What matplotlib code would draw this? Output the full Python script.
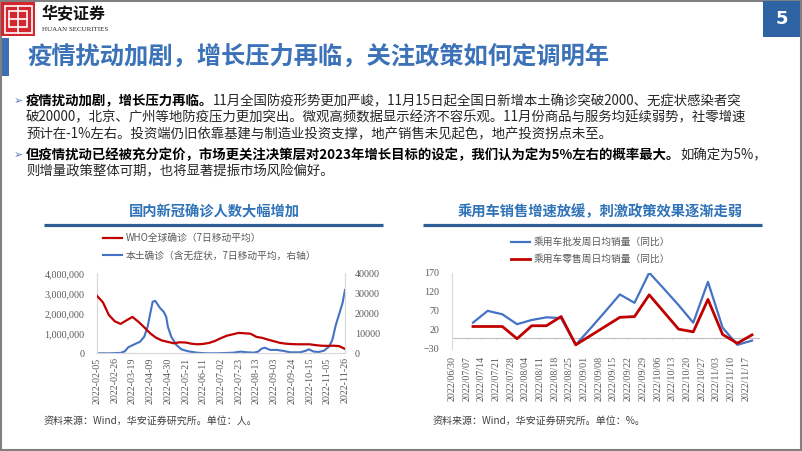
import matplotlib
matplotlib.use('Agg')
import matplotlib.pyplot as plt
import matplotlib.dates as mdates
from matplotlib.patches import Rectangle
from matplotlib.lines import Line2D
import pandas as pd

CJK = ['Noto Sans CJK SC', 'DejaVu Sans']
SERIF = ['Liberation Serif', 'DejaVu Serif']
plt.rcParams['font.family'] = CJK

# ---------------- data ----------------
who_dates = ['2022-02-05', '2022-02-12', '2022-02-19', '2022-02-26', '2022-03-05', '2022-03-12',
             '2022-03-19', '2022-03-26', '2022-04-02', '2022-04-09', '2022-04-16', '2022-04-23',
             '2022-04-30', '2022-05-07', '2022-05-14', '2022-05-21', '2022-05-28', '2022-06-04',
             '2022-06-11', '2022-06-18', '2022-06-25', '2022-07-02', '2022-07-09', '2022-07-16',
             '2022-07-23', '2022-07-30', '2022-08-06', '2022-08-13', '2022-08-20', '2022-08-27',
             '2022-09-03', '2022-09-10', '2022-09-17', '2022-09-24', '2022-10-01', '2022-10-08',
             '2022-10-15', '2022-10-22', '2022-10-29', '2022-11-05', '2022-11-12', '2022-11-19',
             '2022-11-26']
who_cases = [2870000, 2550000, 1920000, 1600000, 1470000, 1650000, 1820000, 1580000, 1300000,
             1000000, 780000, 640000, 570000, 500000, 550000, 540000, 480000, 450000, 470000,
             520000, 620000, 760000, 880000, 950000, 1020000, 1000000, 980000, 820000, 770000,
             680000, 600000, 520000, 480000, 460000, 450000, 450000, 450000, 410000, 380000,
             370000, 380000, 360000, 220000]

local_dates = ['2022-02-05', '2022-02-20', '2022-03-05', '2022-03-10', '2022-03-14', '2022-03-20',
               '2022-03-28', '2022-04-02', '2022-04-06', '2022-04-10', '2022-04-12', '2022-04-15',
               '2022-04-17', '2022-04-21', '2022-04-25', '2022-04-28', '2022-04-30', '2022-05-04',
               '2022-05-10', '2022-05-16', '2022-05-24', '2022-06-03', '2022-06-15', '2022-06-27',
               '2022-07-09', '2022-07-17', '2022-07-25', '2022-08-02', '2022-08-10', '2022-08-15',
               '2022-08-19', '2022-08-23', '2022-08-29', '2022-09-06', '2022-09-14', '2022-09-22',
               '2022-10-04', '2022-10-10', '2022-10-14', '2022-10-20', '2022-10-26', '2022-11-01',
               '2022-11-07', '2022-11-11', '2022-11-15', '2022-11-19', '2022-11-23', '2022-11-26']
local_cases = [0, 0, 200, 1000, 3000, 4200, 5800, 8300, 13300, 21700, 25800, 26200,
               25000, 22500, 20800, 18300, 13300, 8300, 4200, 2000, 1000, 330, 0, 0,
               170, 330, 830, 500, 330, 830, 2300, 2800, 1700, 1700, 1200, 500,
               500, 1200, 2000, 830, 670, 1300, 3300, 6700, 14000, 19500, 25000, 31700]

covid_ticks = ['2022-02-05', '2022-02-26', '2022-03-19', '2022-04-09', '2022-04-30', '2022-05-21',
               '2022-06-11', '2022-07-02', '2022-07-23', '2022-08-13', '2022-09-03', '2022-09-24',
               '2022-10-15', '2022-11-05', '2022-11-26']
covid_left_ticks = [0, 1000000, 2000000, 3000000, 4000000]
covid_right_ticks = [0, 10000, 20000, 30000, 40000]

car_dates = ['2022-07-10', '2022-07-17', '2022-07-24', '2022-07-31', '2022-08-07', '2022-08-14',
             '2022-08-21', '2022-08-28', '2022-09-04', '2022-09-11', '2022-09-18', '2022-09-25',
             '2022-10-02', '2022-10-09', '2022-10-16', '2022-10-23', '2022-10-30', '2022-11-06',
             '2022-11-13', '2022-11-20']
car_wholesale = [39, 70, 61, 35, 46, 53, 51, -19, 24, 68, 113, 91, 170, 128, 85, 39, 146, 26, -19, -8]
car_retail = [29, 29, 29, -3, 31, 31, 55, -19, 5, 29, 53, 55, 112, 67, 22, 15, 100, 8, -15, 7]
car_ticks = ['2022-06-30', '2022-07-07', '2022-07-14', '2022-07-21', '2022-07-28', '2022-08-04',
             '2022-08-11', '2022-08-18', '2022-08-25', '2022-09-01', '2022-09-08', '2022-09-15',
             '2022-09-22', '2022-09-29', '2022-10-06', '2022-10-13', '2022-10-20', '2022-10-27',
             '2022-11-03', '2022-11-10', '2022-11-17']
car_yticks = [-30, 20, 70, 120, 170]

# ---------------- figure ----------------
W, H = 802, 451
fig = plt.figure(figsize=(W / 100, H / 100), dpi=100)
fig.patch.set_facecolor('white')


def fx(px):
    return px / W


def fy(py):
    return 1 - py / H


def axes_px(x0, y0, x1, y1):
    return fig.add_axes([fx(x0), fy(y1), (x1 - x0) / W, (y1 - y0) / H])


def rect_px(x0, y0, x1, y1, **kw):
    r = Rectangle((fx(x0), fy(y1)), (x1 - x0) / W, (y1 - y0) / H, transform=fig.transFigure, **kw)
    fig.add_artist(r)
    return r


def hline_px(x0, x1, y, **kw):
    fig.add_artist(Line2D([fx(x0), fx(x1)], [fy(y), fy(y)], transform=fig.transFigure, **kw))


def vline_px(x, y0, y1, **kw):
    fig.add_artist(Line2D([fx(x), fx(x)], [fy(y0), fy(y1)], transform=fig.transFigure, **kw))


# slide frame
rect_px(1, 1, 800.5, 449.5, fill=False, ec='#808080', lw=1.5)

# logo
LOGO_RED = '#D3262E'
rect_px(1, 2, 35, 36, color=LOGO_RED, lw=0)
rect_px(4.5, 5.5, 31.5, 32.5, fill=False, ec='white', lw=1.2)
rect_px(9, 11, 27, 27, fill=False, ec='white', lw=1.2)
vline_px(18, 5.5, 32.5, color='white', lw=1.2)
hline_px(9, 27, 19, color='white', lw=1.2)
fig.text(fx(42), fy(14.5), '华安证券', fontsize=11.5, fontweight='bold', color='#111111',
         family=CJK, va='center', ha='left')
fig.text(fx(42), fy(29.5), 'HUAAN SECURITIES', fontsize=5, color='#222222',
         family=SERIF, va='center', ha='left')

# page number box
rect_px(763, 1, 800, 37, color='#2E63A3', lw=0)
fig.text(fx(781.5), fy(19), '5', fontsize=13, fontweight='bold', color='white',
         family=['DejaVu Sans'], ha='center', va='center')

# title
rect_px(1.5, 38, 9, 76, color='#3E6FB2', lw=0)
fig.text(fx(27), fy(57), '疫情扰动加剧，增长压力再临，关注政策如何定调明年', fontsize=17.5,
         fontweight='bold', color='#3C72B8', family=CJK, va='center', ha='left')

# bullet paragraphs
renderer = fig.canvas.get_renderer()
BODY = '#262626'


def draw_runs(x_px, y_px, parts, size):
    x = x_px
    for txt, bold in parts:
        t = fig.text(fx(x), fy(y_px), txt, fontsize=size, fontweight='bold' if bold else 'normal',
                     color='#000000' if bold else BODY, family=CJK, va='center', ha='left')
        bb = t.get_window_extent(renderer)
        x += bb.width
    return x


lines = [
    (101, [('疫情扰动加剧，增长压力再临。', True),
           ('11月全国防疫形势更加严峻，11月15日起全国日新增本土确诊突破2000、无症状感染者突', False)]),
    (117.5, [('破20000，北京、广州等地防疫压力更加突出。微观高频数据显示经济不容乐观。11月份商品与服务均延续弱势，社零增速', False)]),
    (134, [('预计在-1%左右。投资端仍旧依靠基建与制造业投资支撑，地产销售未见起色，地产投资拐点未至。', False)]),
    (155, [('但疫情扰动已经被充分定价，市场更关注决策层对2023年增长目标的设定，我们认为定为5%左右的概率最大。', True),
           ('如确定为5%，', False)]),
    (171, [('则增量政策整体可期，也将显著提振市场风险偏好。', False)]),
]

# measure line 1 width to fit the text block
probe = fig.text(0, 0, lines[0][1][0][0], fontsize=10, fontweight='bold', family=CJK)
w1 = probe.get_window_extent(renderer).width
probe.remove()
probe = fig.text(0, 0, lines[0][1][1][0], fontsize=10, family=CJK)
w2 = probe.get_window_extent(renderer).width
probe.remove()
body_size = 10 * (745 - 26) / (w1 + w2)

for y, parts in lines:
    draw_runs(26, y, parts, body_size)
for y in (101, 155):
    fig.text(fx(14), fy(y), '➢', fontsize=8, color='#5A7BB0', family=['DejaVu Sans'],
             va='center', ha='left')

# chart titles and underlines
TITLE_BLUE = '#2F73B8'
UL = '#2F5D96'
fig.text(fx(214), fy(212), '国内新冠确诊人数大幅增加', fontsize=10.3, fontweight='bold',
         color=TITLE_BLUE, ha='center', va='center', family=CJK)
hline_px(44, 383, 224.5, color=UL, lw=2.3, solid_capstyle='butt')
fig.text(fx(600), fy(212), '乘用车销售增速放缓，刺激政策效果逐渐走弱', fontsize=10.3, fontweight='bold',
         color=TITLE_BLUE, ha='center', va='center', family=CJK)
hline_px(423, 762, 224.5, color=UL, lw=2.3, solid_capstyle='butt')

TICK = '#595959'
SPINE = '#D9D9D9'
RED = '#C00000'
BLUE = '#4472C4'

# ---------------- left chart ----------------
ax = axes_px(97, 273.3, 345, 353.3)
ax2 = ax.twinx()
wd = pd.to_datetime(who_dates)
ld = pd.to_datetime(local_dates)
l1, = ax.plot(wd, who_cases, color=RED, lw=1.6, label='WHO全球确诊（7日移动平均）', zorder=3)
l2, = ax2.plot(ld, local_cases, color=BLUE, lw=1.5, label='本土确诊（含无症状，7日移动平均，右轴）')
ax.set_zorder(ax2.get_zorder() + 1)
ax.patch.set_visible(False)
ax.set_xlim(pd.Timestamp(covid_ticks[0]), pd.Timestamp(covid_ticks[-1]))
ax.set_ylim(covid_left_ticks[0], covid_left_ticks[-1])
ax2.set_ylim(covid_right_ticks[0], covid_right_ticks[-1])
ax.set_yticks(covid_left_ticks)
ax.set_yticklabels([f'{v:,}' for v in covid_left_ticks])
ax2.set_yticks(covid_right_ticks)
ax2.set_yticklabels([str(v) for v in covid_right_ticks])
ax.set_xticks(pd.to_datetime(covid_ticks))
ax.set_xticklabels(covid_ticks, rotation=90)
for a in (ax, ax2):
    a.tick_params(length=0, labelsize=7.2, labelcolor=TICK)
    for lab in a.get_yticklabels() + a.get_xticklabels():
        lab.set_family(SERIF)
    for s in a.spines.values():
        s.set_color(SPINE)
        s.set_linewidth(0.8)
    a.spines['top'].set_visible(False)
ax.tick_params(axis='y', pad=9)
ax2.tick_params(axis='y', pad=7)
ax.tick_params(axis='x', pad=3)
fig.legend(handles=[l1, l2], loc='upper left', bbox_to_anchor=(fx(103), fy(233)), frameon=False,
           fontsize=7, handlelength=2.0, handletextpad=0.3, labelspacing=0.75,
           labelcolor=TICK, borderpad=0, borderaxespad=0)

# ---------------- right chart ----------------
bx = axes_px(452, 272.7, 760.4, 349)
cd = pd.to_datetime(car_dates)
b1, = bx.plot(cd, car_wholesale, color=BLUE, lw=1.6, label='乘用车批发周日均销量（同比）', zorder=3)
b2, = bx.plot(cd, car_retail, color=RED, lw=2.0, label='乘用车零售周日均销量（同比）', zorder=4)
bx.set_xlim(pd.Timestamp(car_ticks[0]), pd.Timestamp('2022-11-24'))
bx.set_ylim(car_yticks[0], car_yticks[-1])
bx.set_yticks(car_yticks)
ct = pd.to_datetime(car_ticks)
bx.set_xticks(ct)
bx.set_xticklabels([s.replace('-', '/') for s in car_ticks], rotation=90)
bx.axhline(0, color='#BFBFBF', lw=0.8, zorder=1)
bx.vlines(ct, -4, 0, color='#BFBFBF', lw=0.8, zorder=1)
bx.tick_params(length=0, labelsize=7.2, labelcolor=TICK)
bx.tick_params(axis='y', pad=9)
bx.tick_params(axis='x', pad=5)
for lab in bx.get_yticklabels() + bx.get_xticklabels():
    lab.set_family(SERIF)
for k, s in bx.spines.items():
    s.set_visible(k == 'left')
    s.set_color(SPINE)
    s.set_linewidth(0.8)
fig.legend(handles=[b1, b2], loc='upper left', bbox_to_anchor=(fx(511), fy(237)), frameon=False,
           fontsize=7, handlelength=2.0, handletextpad=0.3, labelspacing=0.75,
           labelcolor=TICK, borderpad=0, borderaxespad=0)

# sources
fig.text(fx(44), fy(421), '资料来源：Wind，华安证券研究所。单位：人。', fontsize=7.2, color='#404040',
         family=CJK, va='center', ha='left')
fig.text(fx(433), fy(421), '资料来源：Wind，华安证券研究所。单位：%。', fontsize=7.2, color='#404040',
         family=CJK, va='center', ha='left')

fig.savefig('out.png', dpi=100, facecolor='white')
